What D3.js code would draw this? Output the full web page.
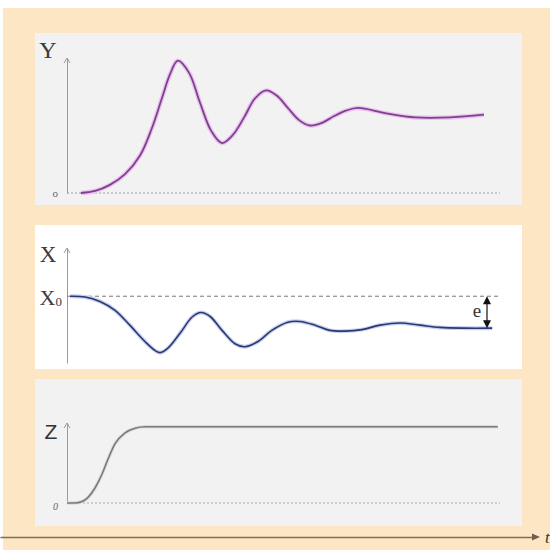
<!DOCTYPE html>
<html>
<head>
<meta charset="utf-8">
<script src="https://cdn.jsdelivr.net/npm/d3@7"></script>
<style>
  html, body { margin: 0; padding: 0; background: #ffffff; }
  svg { display: block; }
</style>
</head>
<body>
<svg id="chart" width="550" height="550"></svg>
<script>
// ---- data (time in arbitrary units 0..100) ----
const tY   = [3.2, 6.5, 9.9, 13.4, 16.9, 19.6, 21.9, 23.8, 25.6, 28.2, 30.7, 33.3, 35.8, 38.3, 40.9, 43.4, 46.0, 48.5, 51.0, 53.6, 56.1, 58.9, 61.7, 64.4, 67.2, 73.7, 80.4, 88.5, 96.3];
const valY = [0, 0.015, 0.06, 0.14, 0.28, 0.48, 0.70, 0.88, 0.98, 0.89, 0.67, 0.46, 0.37, 0.43, 0.56, 0.70, 0.76, 0.72, 0.63, 0.54, 0.50, 0.52, 0.57, 0.61, 0.63, 0.59, 0.56, 0.56, 0.58];

const tX   = [0.7, 4.2, 7.6, 11.1, 14.5, 18.0, 20.3, 21.5, 23.3, 26.1, 28.9, 30.9, 33.0, 35.8, 38.8, 41.1, 44.1, 47.3, 51.0, 53.8, 57.3, 60.7, 64.2, 68.1, 72.3, 76.9, 81.5, 86.1, 91.9, 98.2];
const valX = [1.0, 0.99, 0.93, 0.81, 0.61, 0.39, 0.27, 0.24, 0.30, 0.50, 0.72, 0.78, 0.73, 0.54, 0.36, 0.32, 0.39, 0.54, 0.65, 0.66, 0.61, 0.54, 0.53, 0.55, 0.61, 0.64, 0.61, 0.58, 0.57, 0.57];

const tZ   = [0, 1.8, 3.5, 4.8, 6.5, 8.1, 9.5, 11.1, 13.4, 15.7, 18.0, 99.5];
const valZ = [0, 0, 0.02, 0.07, 0.2, 0.38, 0.58, 0.78, 0.92, 0.98, 1.0, 1.0];

const X0 = 1.0;          // initial X level
const errorEnd = 0.57;   // steady-state X level (e = X0 - errorEnd)

const labelsY = ["o"];
const labelsZ = ["0"];

// ---- drawing ----
const svg = d3.select("#chart");
const serif = "'Liberation Serif','DejaVu Serif',serif";
const sans  = "'Liberation Sans','DejaVu Sans',sans-serif";

// page background
svg.append("rect").attr("x", 3).attr("y", 8).attr("width", 547).attr("height", 542).attr("fill", "#fce6c4");

// panels
const panels = [
  {y: 33,  h: 172, fill: "#f2f2f2"},
  {y: 225, h: 144, fill: "#ffffff"},
  {y: 379, h: 147, fill: "#f2f2f2"}
];
svg.selectAll("rect.panel").data(panels).join("rect")
  .attr("class", "panel")
  .attr("x", 35).attr("width", 487)
  .attr("y", d => d.y).attr("height", d => d.h)
  .attr("fill", d => d.fill);

// shared time scale
const xScale = d3.scaleLinear().domain([0, 100]).range([67, 500]);
const ax = xScale(0);

// open arrow head pointing up at (x, y)
function upArrow(x, y) {
  svg.append("path").attr("d", `M${x - 3},${y + 5} L${x},${y} L${x + 3},${y + 5}`)
    .attr("fill", "none").attr("stroke", "#999").attr("stroke-width", 1);
}

// vertical axis helper
function vAxis(scale, tickVals, fmt) {
  const g = svg.append("g").attr("transform", `translate(${ax},0)`)
    .call(d3.axisLeft(scale).tickValues(tickVals).tickFormat(fmt).tickSize(0).tickSizeOuter(0).tickPadding(9));
  g.select(".domain").attr("stroke", "#9a9a9a").attr("stroke-width", 1);
  g.selectAll(".tick text").attr("fill", "#666").attr("font-family", serif);
  upArrow(ax, scale.range()[1]);
  return g;
}

const smooth = d3.curveCatmullRom.alpha(0.5);

// ---------- Panel 1: Y ----------
const yY = d3.scaleLinear().domain([0, 1.0]).range([193, 58]);
const gY = vAxis(yY, [0], (d, i) => labelsY[i]);
gY.selectAll(".tick text").attr("font-size", 11);
svg.append("line").attr("x1", ax).attr("x2", xScale(100)).attr("y1", yY(0)).attr("y2", yY(0))
  .attr("stroke", "#a0a0a0").attr("stroke-width", 1).attr("stroke-dasharray", "2,2");
svg.append("text").attr("x", 48).attr("y", 58).attr("text-anchor", "middle")
  .attr("font-family", serif).attr("font-size", 24).attr("fill", "#3c3c3c").text("Y");

const lineY = d3.line().x((d, i) => xScale(tY[i])).y(d => yY(d)).curve(smooth);
svg.append("path").attr("d", lineY(valY)).attr("fill", "none").attr("stroke", "#eac3ee").attr("stroke-width", 4.5);
svg.append("path").attr("d", lineY(valY)).attr("fill", "none").attr("stroke", "#7e418f").attr("stroke-width", 1.8);

// ---------- Panel 2: X ----------
const yX = d3.scaleLinear().domain([0.1, 1.65]).range([363, 248]);
const gX = vAxis(yX, [X0], () => "X");
gX.selectAll(".tick text").attr("font-size", 22).attr("fill", "#3c3c3c").attr("dy", "0.38em").attr("x", -5)
  .append("tspan").attr("font-size", 13).attr("dy", "0.1em").text("0");
svg.append("line").attr("x1", ax).attr("x2", 498).attr("y1", yX(X0)).attr("y2", yX(X0))
  .attr("stroke", "#777").attr("stroke-width", 1).attr("stroke-dasharray", "4,3");
svg.append("text").attr("x", 48).attr("y", 262).attr("text-anchor", "middle")
  .attr("font-family", serif).attr("font-size", 23).attr("fill", "#3c3c3c").text("X");

const lineX = d3.line().x((d, i) => xScale(tX[i])).y(d => yX(d)).curve(smooth);
svg.append("path").attr("d", lineX(valX)).attr("fill", "none").attr("stroke", "#c8d2ee").attr("stroke-width", 4);
svg.append("path").attr("d", lineX(valX)).attr("fill", "none").attr("stroke", "#2c3775").attr("stroke-width", 1.6);

// error arrow e
const ex = 487, eTop = yX(X0), eBot = yX(errorEnd);
svg.append("line").attr("x1", ex).attr("x2", ex).attr("y1", eTop + 6).attr("y2", eBot - 6)
  .attr("stroke", "#111").attr("stroke-width", 1.2);
svg.append("path").attr("d", `M${ex},${eTop} L${ex - 4},${eTop + 8} L${ex + 4},${eTop + 8} Z`).attr("fill", "#111");
svg.append("path").attr("d", `M${ex},${eBot} L${ex - 4},${eBot - 8} L${ex + 4},${eBot - 8} Z`).attr("fill", "#111");
svg.append("text").attr("x", 477).attr("y", (eTop + eBot) / 2 + 5).attr("text-anchor", "middle")
  .attr("font-family", serif).attr("font-size", 19).attr("fill", "#333").text("e");

// ---------- Panel 3: Z ----------
const yZ = d3.scaleLinear().domain([0, 1.05]).range([503, 423]);
const gZ = vAxis(yZ, [0], (d, i) => labelsZ[i]);
gZ.selectAll(".tick text").attr("font-size", 10).attr("font-style", "italic").attr("dy", "0.6em");
svg.append("line").attr("x1", ax).attr("x2", xScale(100)).attr("y1", yZ(0)).attr("y2", yZ(0))
  .attr("stroke", "#a8a8a8").attr("stroke-width", 1).attr("stroke-dasharray", "2,2");
svg.append("text").attr("x", 51).attr("y", 439).attr("text-anchor", "middle")
  .attr("font-family", sans).attr("font-size", 21).attr("fill", "#333").text("Z");

const lineZ = d3.line().x((d, i) => xScale(tZ[i])).y(d => yZ(d)).curve(d3.curveMonotoneX);
svg.append("path").attr("d", lineZ(valZ)).attr("fill", "none").attr("stroke", "#dcdcdc").attr("stroke-width", 3.5);
svg.append("path").attr("d", lineZ(valZ)).attr("fill", "none").attr("stroke", "#7a7a7a").attr("stroke-width", 1.6);

// ---------- time axis ----------
const tScale = d3.scaleLinear().domain([0, 1]).range([0, 533]);
svg.append("g").attr("transform", "translate(0,537)")
  .call(d3.axisBottom(tScale).tickValues([]).tickSizeOuter(0))
  .select(".domain").attr("stroke", "#7d6d5d").attr("stroke-width", 1.4);
svg.append("path").attr("d", "M540,537 L532,533.5 L532,540.5 Z").attr("fill", "#6e5e4e");
svg.append("text").attr("x", 545).attr("y", 543)
  .attr("font-family", serif).attr("font-style", "italic").attr("font-size", 17).attr("fill", "#333").text("t");
</script>
</body>
</html>
